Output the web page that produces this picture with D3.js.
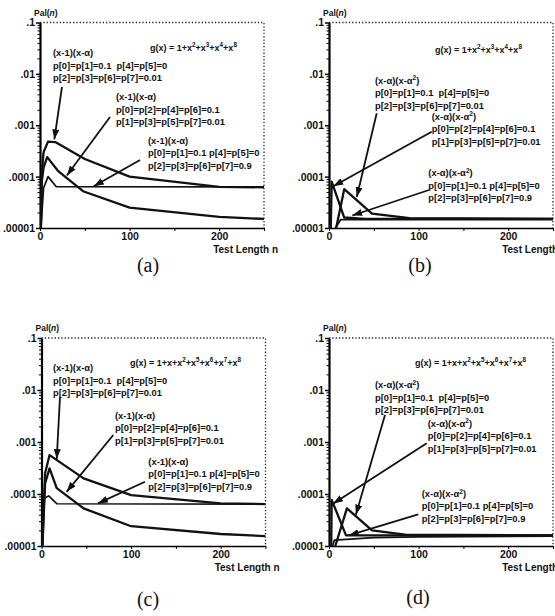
<!DOCTYPE html>
<html>
<head>
<meta charset="utf-8">
<script src="https://cdn.jsdelivr.net/npm/d3@7"></script>
<style>
body{margin:0;background:#fff}
svg text{font-family:"Liberation Sans",Arial,Helvetica,sans-serif;font-weight:bold;fill:#111}
svg text.cap{font-family:"Liberation Serif","Times New Roman",serif;font-weight:normal;font-size:20px}
</style>
</head>
<body>
<div id="chart"></div>
<script>
// axis ticks
var yTicks = [0.1, 0.01, 0.001, 0.0001, 0.00001]
var yTickLabels = ['.1', '.01', '.001', '.0001', '.00001']
var xTicks = [0, 100, 200]
var xMinor = [50, 150, 250]

// texts
var polyAB = 'g(x) = 1+x^2+x^3+x^4+x^8'
var polyCD = 'g(x) = 1+x+x^2+x^5+x^6+x^7+x^8'
var factorAC = '(x-1)(x-α)'
var factorBD = '(x-α)(x-α^2)'
var params1 = ['p[0]=p[1]=0.1  p[4]=p[5]=0', 'p[2]=p[3]=p[6]=p[7]=0.01']
var params2 = ['p[0]=p[2]=p[4]=p[6]=0.1', 'p[1]=p[3]=p[5]=p[7]=0.01']
var params3 = ['p[0]=p[1]=0.1 p[4]=p[5]=0', 'p[2]=p[3]=p[6]=p[7]=0.9']

// (a) test length n / Pal(n)
var nA1 = [1, 2, 4, 9, 17, 50, 100, 200, 250]
var pA1 = [1e-5, 1.2e-4, 3e-4, 4.8e-4, 4.7e-4, 2.2e-4, 1e-4, 6.3e-5, 6.2e-5]
var nA2 = [1, 2, 4, 8, 20, 48, 100, 200, 250]
var pA2 = [1e-5, 8e-5, 1.5e-4, 2.4e-4, 1.3e-4, 5.2e-5, 2.5e-5, 1.65e-5, 1.5e-5]
var nA3 = [1, 4, 9, 18, 250]
var pA3 = [1e-5, 6e-5, 1e-4, 6.4e-5, 6.3e-5]
// (b)
var nB1 = [8, 17, 48, 90, 250]
var pB1 = [1e-5, 5.7e-5, 1.9e-5, 1.55e-5, 1.5e-5]
var nB2 = [2, 3, 17, 40, 250]
var pB2 = [1e-5, 8e-5, 1.6e-5, 1.5e-5, 1.5e-5]
var nB3 = [7, 10, 13, 250]
var pB3 = [1e-5, 1.2e-5, 1.45e-5, 1.45e-5]
// (c)
var nC1 = [1, 4, 9, 47, 100, 200, 250]
var pC1 = [1e-5, 2.5e-4, 5.6e-4, 2e-4, 9.5e-5, 6.6e-5, 6.4e-5]
var nC2 = [1, 4, 9, 17, 47, 100, 200, 250]
var pC2 = [1e-5, 1.6e-4, 3.1e-4, 1.3e-4, 5.3e-5, 2.4e-5, 1.7e-5, 1.55e-5]
var nC3 = [1, 2, 8, 17, 250]
var pC3 = [1e-5, 8e-5, 9.2e-5, 6.5e-5, 6.4e-5]
// (d)
var nD1 = [7, 20, 48, 85, 250]
var pD1 = [1e-5, 5.3e-5, 2e-5, 1.65e-5, 1.6e-5]
var nD2 = [2.5, 3, 19, 250]
var pD2 = [1e-5, 7.7e-5, 1.6e-5, 1.6e-5]
var nD3 = [4, 6, 50, 100, 250]
var pD3 = [1e-5, 1.3e-5, 1.45e-5, 1.5e-5, 1.55e-5]

// arrow tips (n, Pal)
var tipsA = [[16, 5.3e-4], [30, 1.05e-4], [60, 6.5e-5]]
var tipsB = [[31, 4e-5], [4.8, 6.5e-5], [26, 1.75e-5]]
var tipsC = [[17, 4.7e-4], [28, 1.1e-4], [63, 6.6e-5]]
var tipsD = [[30, 4e-5], [4.5, 6.5e-5], [22, 1.6e-5]]

var zip = function(ns, ps){ return ns.map(function(n, i){ return [n, ps[i]] }) }

var panels = [
	{ cap: '(a)', left: 40, top: 22.5, h: 205.5, capX: 148, capY: 272, poly: polyAB, factor: factorAC,
	  curves: [zip(nA1, pA1), zip(nA2, pA2), zip(nA3, pA3)], tips: tipsA,
	  gPos: [110, 24.5], labels: [[13, 30], [76, 74.2], [108, 117.5]],
	  tails: [[22, 64.5], [70, 94.5], [100, 137.5]] },
	{ cap: '(b)', left: 329, top: 22.5, h: 205.5, capX: 420, capY: 272, poly: polyAB, factor: factorBD,
	  curves: [zip(nB1, pB1), zip(nB2, pB2), zip(nB3, pB3)], tips: tipsB,
	  gPos: [106, 26.5], labels: [[46, 57.5], [102.7, 93.5], [99.3, 150.2]],
	  tails: [[47.7, 90.8], [102.7, 109.2], [100, 167.5]] },
	{ cap: '(c)', left: 41.5, top: 338, h: 208, capX: 148, capY: 606, poly: polyCD, factor: factorAC,
	  curves: [zip(nC1, pC1), zip(nC2, pC2), zip(nC3, pC3)], tips: tipsC,
	  gPos: [88.5, 24], labels: [[11.5, 29.7], [73.5, 77], [106.8, 123]],
	  tails: [[18.5, 58.7], [71.8, 97], [103.5, 143.7]] },
	{ cap: '(d)', left: 329, top: 338, h: 208, capX: 418, capY: 604, poly: polyCD, factor: factorBD,
	  curves: [zip(nD1, pD1), zip(nD2, pD2), zip(nD3, pD3)], tips: tipsD,
	  gPos: [86, 24], labels: [[46, 46.5], [98.7, 85], [92.7, 155.3]],
	  tails: [[56, 77], [97.7, 105.3], [89.3, 176.3]] }
]

var W = 224
var svg = d3.select('#chart').append('svg')
	.attr('width', 555)
	.attr('height', 616)

svg.append('defs').append('marker')
	.attr('id', 'head')
	.attr('markerUnits', 'userSpaceOnUse')
	.attr('markerWidth', 10).attr('markerHeight', 7)
	.attr('refX', 10).attr('refY', 3.5)
	.attr('orient', 'auto')
	.append('path').attr('d', 'M0,0L10,3.5L0,7Z').attr('fill', '#111')

// writes "x^2" style strings with superscripts
function rich(t, str, size){
	var shift = 0
	str.split(/(\^\d)/).forEach(function(part){
		if (!part) return
		if (part[0] == '^') {
			t.append('tspan').attr('dy', -size * 0.35).attr('font-size', size * 0.7).text(part.slice(1))
			shift = size * 0.35
		} else {
			t.append('tspan').attr('dy', shift).text(part)
			shift = 0
		}
	})
}

var minorY = []
yTicks.slice(0, 4).forEach(function(d){
	for (var k = 2; k < 10; k++) minorY.push(d / 10 * k)
})

panels.forEach(function(p, pi){
	var x = d3.scaleLinear().domain([0, 250]).range([0, W])
	var y = d3.scaleLog().domain([1e-5, 0.1]).range([p.h, 0])

	var g = svg.append('g').attr('transform', 'translate(' + p.left + ',' + p.top + ')')

	g.append('clipPath').attr('id', 'clip' + pi)
		.append('rect').attr('width', W).attr('height', p.h)

	// dotted top and right frame
	g.append('path')
		.attr('d', 'M0,0H' + W + 'V' + p.h)
		.attr('fill', 'none').attr('stroke', '#222')
		.attr('stroke-width', 1.3).attr('stroke-dasharray', '1.3,2')

	var yAxis = g.append('g')
		.call(d3.axisLeft(y).tickValues(yTicks).tickFormat(function(d, i){ return yTickLabels[i] })
			.tickSize(4).tickSizeOuter(0).tickPadding(1))
	yAxis.select('.domain').attr('stroke-width', 2.2)
	yAxis.selectAll('.tick line').attr('stroke-width', 1.5)
	yAxis.selectAll('text').attr('font-size', 10.5).attr('font-family', null)

	g.append('g')
		.call(d3.axisLeft(y).tickValues(minorY).tickFormat('').tickSize(2.5).tickSizeOuter(0))
		.select('.domain').remove()

	var xAxis = g.append('g').attr('transform', 'translate(0,' + p.h + ')')
		.call(d3.axisBottom(x).tickValues(xTicks).tickSize(3).tickSizeOuter(0).tickPadding(2))
	xAxis.select('.domain').attr('stroke-width', 1.6)
	xAxis.selectAll('text').attr('font-size', 10.5).attr('font-family', null)
	g.append('g').attr('transform', 'translate(0,' + p.h + ')')
		.call(d3.axisBottom(x).tickValues(xMinor).tickFormat('').tickSize(3).tickSizeOuter(0))
		.select('.domain').remove()

	// axis titles
	var yt = g.append('text').attr('x', -6).attr('y', -7).attr('font-size', 8.5)
	yt.append('tspan').text('Pal(')
	yt.append('tspan').attr('font-style', 'italic').text('n')
	yt.append('tspan').text(')')

	g.append('text').attr('x', W + 14).attr('y', p.h + 25)
		.attr('text-anchor', 'end').attr('font-size', 10).text('Test Length n')

	// curves
	var line = d3.line().x(function(d){ return x(d[0]) }).y(function(d){ return y(d[1]) })
	g.append('g').attr('clip-path', 'url(#clip' + pi + ')')
		.selectAll('path').data(p.curves).enter().append('path')
		.attr('d', line)
		.attr('fill', 'none').attr('stroke', '#111')
		.attr('stroke-width', function(d, i){ return i == 2 ? 1.7 : 2.3 })
		.attr('stroke-linejoin', 'round')

	// polynomial
	var gt = g.append('text').attr('x', p.gPos[0]).attr('y', p.gPos[1] + 3.5).attr('font-size', 9)
	rich(gt, p.poly, 9)

	// annotations
	var params = [params1, params2, params3]
	p.labels.forEach(function(l, i){
		var lines = [p.factor].concat(params[i])
		lines.forEach(function(s, j){
			var t = g.append('text').attr('x', l[0]).attr('y', l[1] + 3.5 + j * 12.6)
				.attr('font-size', 9.4).style('white-space', 'pre')
			rich(t, s, 9.4)
		})
		g.append('line')
			.attr('x1', p.tails[i][0]).attr('y1', p.tails[i][1])
			.attr('x2', x(p.tips[i][0])).attr('y2', y(p.tips[i][1]))
			.attr('stroke', '#111').attr('stroke-width', 1.8)
			.attr('marker-end', 'url(#head)')
	})

	svg.append('text').attr('class', 'cap')
		.attr('x', p.capX).attr('y', p.capY)
		.attr('text-anchor', 'middle').text(p.cap)
})
</script>
</body>
</html>
